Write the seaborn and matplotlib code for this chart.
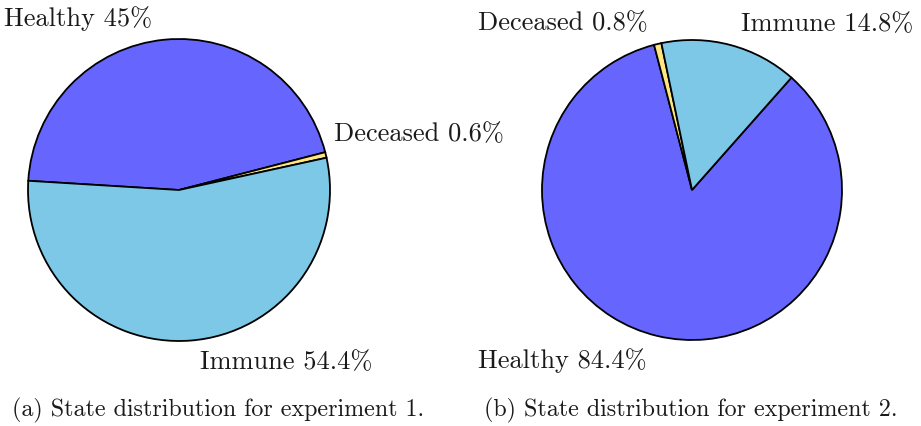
import matplotlib
matplotlib.use("Agg")
import matplotlib.pyplot as plt
import seaborn as sns

# State shares (percent) for the two experiments
states = ["Healthy", "Deceased", "Immune"]
exp1_share = [45, 0.6, 54.4]
exp2_share = [84.4, 0.8, 14.8]
captions = ["(a) State distribution for experiment 1.",
            "(b) State distribution for experiment 2."]

state_colors = {"Healthy": "#6666FF", "Deceased": "#FFE680", "Immune": "#7DC8E6"}

sns.set_theme(style="white")
plt.rcParams["font.family"] = ["cmr10", "DejaVu Serif"]
plt.rcParams["mathtext.fontset"] = "cm"
plt.rcParams["axes.formatter.use_mathtext"] = True

W, H = 921, 427
fig = plt.figure(figsize=(W / 100, H / 100), dpi=100)
ax = fig.add_axes([0, 0, 1, 1])

# one canvas in pixel units (y measured upward)
panels = [
    dict(share=exp1_share, center=(179, H - 191), radius=151, start=176.5,
         nudge=[(-10, 0), (-14, 16), (8, 2)], cap_x=218),
    dict(share=exp2_share, center=(692, H - 191), radius=150, start=48.5,
         nudge=[(-5, -2), (-5, 0), (5, 0)], cap_x=691),
]

for p, cap in zip(panels, captions):
    labels = [f"{s} {v:g}%" for s, v in zip(states, p["share"])]
    wedges, texts = ax.pie(
        p["share"], labels=labels, colors=[state_colors[s] for s in states],
        startangle=p["start"], counterclock=False, center=p["center"],
        radius=p["radius"], labeldistance=1.15, frame=True,
        wedgeprops=dict(edgecolor="black", linewidth=1.3),
        textprops=dict(fontsize=19, color="#1a1a1a"),
    )
    cx = p["center"][0]
    for t, (dx, dy) in zip(texts, p["nudge"]):
        x, y = t.get_position()
        # labels on the left half grow leftward from their anchor
        t.set_ha("right" if x < cx else "left")
        t.set_va("center")
        t.set_position((x + dx, y + dy))
    ax.text(p["cap_x"], H - 410, cap, ha="center", va="center",
            fontsize=17.3, color="#1a1a1a")

ax.set_xlim(0, W)
ax.set_ylim(0, H)
ax.set_aspect("equal")
ax.axis("off")

fig.savefig("out.png", dpi=100, facecolor="white")
